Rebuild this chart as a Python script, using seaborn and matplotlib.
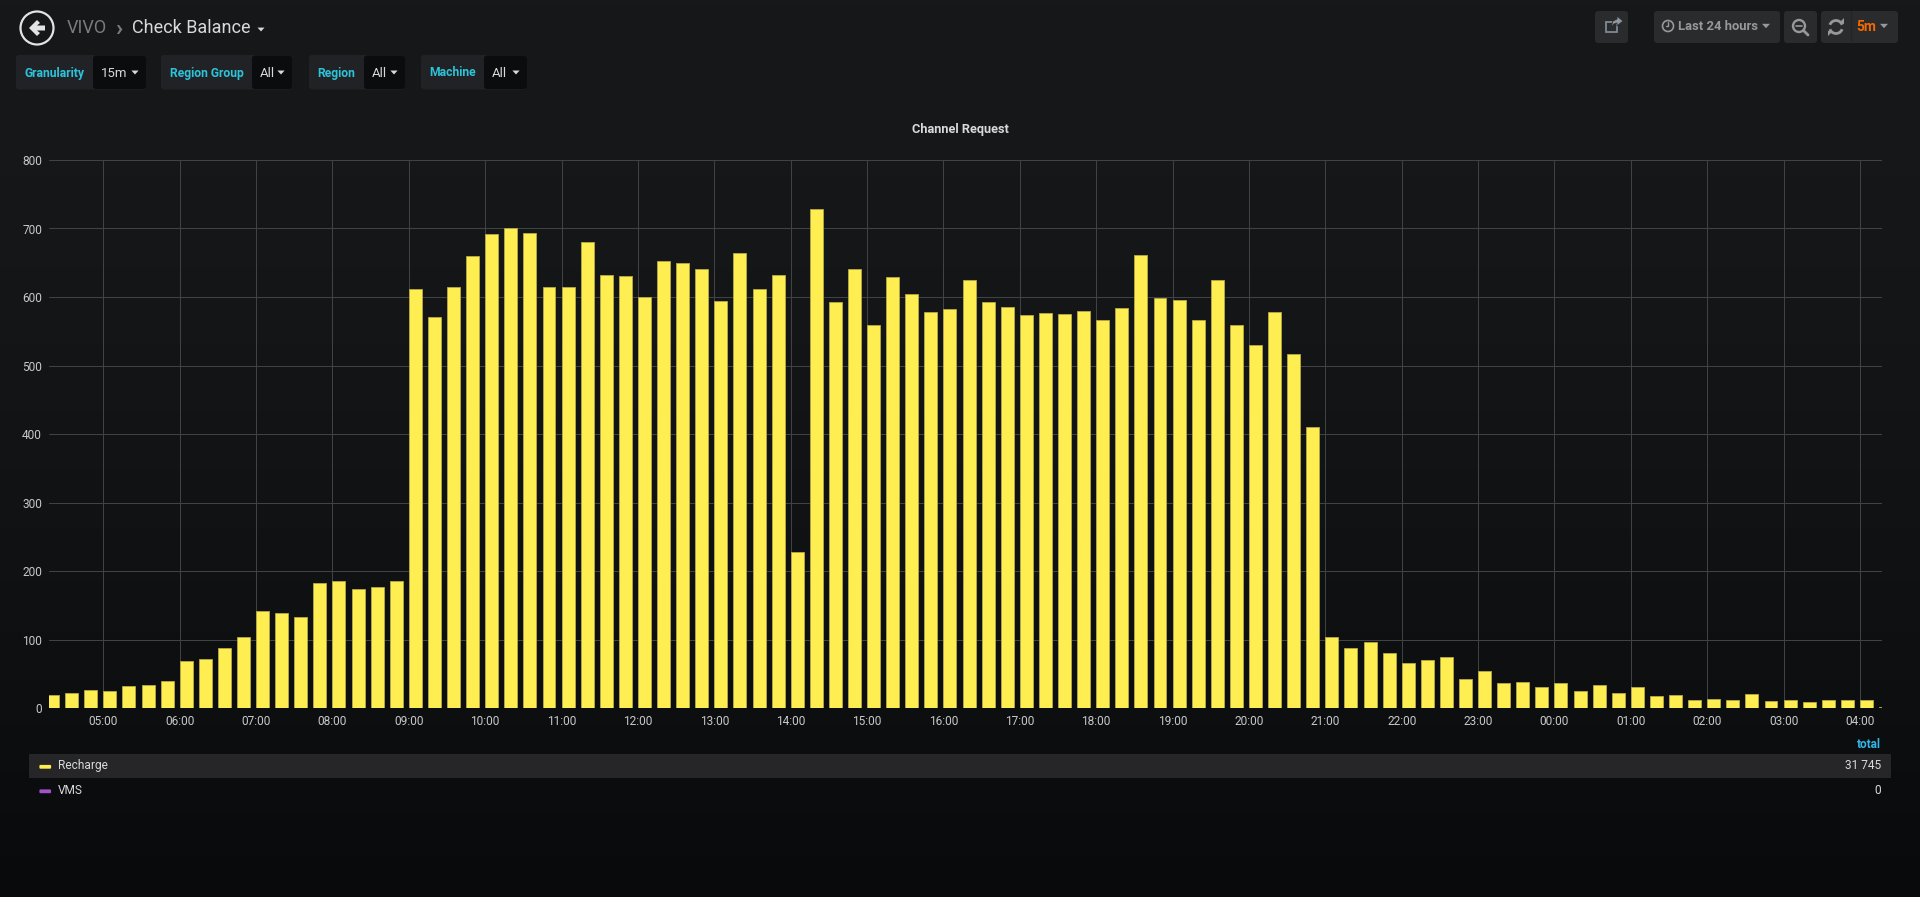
import numpy as np
import pandas as pd
import seaborn as sns
import matplotlib.pyplot as plt
from matplotlib.patches import FancyBboxPatch, Rectangle, Circle, Polygon, Arc

# Values per 15 minute bucket (first bucket 04:15)
recharge = [19, 22, 26,
            25, 32, 34, 40,
            69, 72, 87, 104,
            142, 139, 133, 182,
            186, 174, 177, 186,
            612, 571, 614, 660,
            692, 701, 694, 615,
            614, 680, 632, 630,
            600, 652, 650, 641,
            594, 664, 611, 632,
            228, 728, 593, 641,
            559, 629, 604, 578,
            583, 625, 593, 586,
            574, 577, 575, 579,
            567, 584, 661, 598,
            596, 567, 625, 559,
            530, 578, 517, 410,
            104, 87, 97, 81,
            65, 70, 74, 42,
            54, 37, 38, 31,
            37, 25, 34, 22,
            30, 18, 19, 12,
            13, 11, 21, 10,
            11, 9, 11, 11,
            11, 1.5]
vms = [0] * len(recharge)

hour_labels = ['05:00', '06:00', '07:00', '08:00', '09:00', '10:00', '11:00', '12:00',
               '13:00', '14:00', '15:00', '16:00', '17:00', '18:00', '19:00', '20:00',
               '21:00', '22:00', '23:00', '00:00', '01:00', '02:00', '03:00', '04:00']
y_ticks = [0, 100, 200, 300, 400, 500, 600, 700, 800]
legend_names = ['Recharge', 'VMS']
legend_totals = ['31 745', '0']

YELLOW = '#FFEE52'
PURPLE = '#A352CC'
CYAN = '#2CC4DA'
TEXT = '#D8D9DA'
GREY = '#97989A'

sns.set_theme(style='dark')
plt.rcParams['font.family'] = ['Roboto', 'DejaVu Sans']

fig = plt.figure(figsize=(19.2, 8.97), dpi=100)

# background layer in screen pixels, for the dashboard chrome
bg = fig.add_axes([0, 0, 1, 1], zorder=0)
bg.set_xlim(0, 1920)
bg.set_ylim(897, 0)
bg.axis('off')
shade = np.linspace(0, 1, 256).reshape(256, 1, 1) ** 1.6
start, end = np.array([0x17, 0x18, 0x1A]), np.array([0x09, 0x0A, 0x0C])
bg.imshow((start + (end - start) * shade) / 255, extent=(0, 1920, 897, 0), aspect='auto', zorder=0)


def box(x0, x1, y0, y1, color):
    bg.add_patch(FancyBboxPatch((x0, y0), x1 - x0, y1 - y0, boxstyle='round,pad=0,rounding_size=3',
                                fc=color, ec='none', zorder=1))


def caret(x, y, color, size=4.5):
    bg.add_patch(Polygon([(x - size, y - size * 0.55), (x + size, y - size * 0.55), (x, y + size * 0.55)],
                         fc=color, ec='none', zorder=3))


def label(x, y, s, color=TEXT, size=9.4, ha='left', weight='normal'):
    bg.text(x, y, s, color=color, fontsize=size, ha=ha, va='center', fontweight=weight, zorder=3)


# back button and breadcrumb
bg.add_patch(Circle((37, 28), 16.5, fc='none', ec='#E3E3E4', lw=1.6, zorder=3))
bg.add_patch(Polygon([(29, 28), (37, 20), (40, 23), (37, 25.5), (45, 25.5), (45, 30.5), (37, 30.5), (40, 33), (37, 36)],
                     fc='#E3E3E4', ec='none', zorder=3))
label(67, 28, 'VIVO', color='#7B7C7E', size=13)
label(115, 28, '›', color='#7B7C7E', size=17, weight='bold')
label(132, 28, 'Check Balance', color=TEXT, size=13)
caret(261, 29.5, TEXT, size=3.5)

# template variables
variables = [(16, 93, 146, 'Granularity', '15m'), (161, 252, 292, 'Region Group', 'All'),
             (309, 364, 405, 'Region', 'All'), (421, 484, 527, 'Machine', 'All')]
for x0, xm, x1, name, value in variables:
    box(x0, x1, 55, 89.5, '#212226')
    box(xm, x1, 55.5, 89, '#0B0C0E')
    label(x0 + 8.5, 73, name, color=CYAN, size=8.7, weight='bold')
    label(xm + 8, 73.5, value, color=TEXT, size=9.5)
    caret(x1 - 11, 72.5, TEXT, size=3.6)

# time picker buttons
for x0, x1 in [(1595, 1628), (1654, 1780), (1784, 1817), (1821, 1898)]:
    box(x0, x1, 11, 43, '#2A2B2D')
bg.plot([1851, 1851], [11, 43], color='#222325', lw=0.8, zorder=2)
# share icon
bg.add_patch(Rectangle((1606, 22), 10.5, 10.5, fc='none', ec='#7E8A96', lw=1.3, zorder=3))
bg.add_patch(Polygon([(1611, 27), (1613, 21), (1617, 19), (1617, 16), (1623, 21), (1617, 26), (1617, 23), (1614, 24)],
                     fc='#8E979F', ec='#2A2B2D', lw=0.6, zorder=4))
# clock, magnifier and refresh icons
bg.add_patch(Circle((1668, 26), 5.5, fc='none', ec=GREY, lw=1.2, zorder=3))
bg.plot([1668, 1668, 1665.5], [22.5, 26.5, 26.5], color=GREY, lw=1, zorder=3)
label(1678, 27, 'Last 24 hours', color=GREY, size=9.4, weight='bold')
caret(1766, 26, GREY, size=4)
bg.add_patch(Circle((1799, 26), 6, fc='none', ec=GREY, lw=1.7, zorder=3))
bg.plot([1803.5, 1808], [30.5, 35], color=GREY, lw=2, zorder=3)
bg.plot([1796, 1802], [26, 26], color=GREY, lw=1.2, zorder=3)
bg.add_patch(Arc((1836, 27), 13, 13, theta1=200, theta2=340, color=GREY, lw=2, zorder=3))
bg.add_patch(Arc((1836, 27), 13, 13, theta1=20, theta2=160, color=GREY, lw=2, zorder=3))
bg.add_patch(Polygon([(1839, 23), (1844, 18), (1844, 24)], fc=GREY, ec='none', zorder=3))
bg.add_patch(Polygon([(1828, 31), (1833, 31), (1828, 36)], fc=GREY, ec='none', zorder=3))
label(1856, 27, '5m', color='#F46800', size=10, weight='bold')
caret(1884, 26, GREY, size=4)

# legend table under the graph
label(1881, 744, 'total', color='#33B5E5', size=8.6, ha='right', weight='bold')
bg.add_patch(Rectangle((29, 754), 1862, 24, fc='#262628', ec='none', zorder=1))
for name, total, color, y in zip(legend_names, legend_totals, [YELLOW, PURPLE], [765.5, 790]):
    bg.add_patch(FancyBboxPatch((40, y), 10.5, 2.6, boxstyle='round,pad=0.6,rounding_size=1',
                                fc=color, ec='none', zorder=3))
    label(58, y, name, color=TEXT, size=8.6)
    label(1881, y, total, color=TEXT, size=8.6, ha='right')

# the graph itself
W, H = 1920, 897
left, right, top, bottom = 49, 1882, 160, 708
ax = fig.add_axes([left / W, 1 - bottom / H, (right - left) / W, (bottom - top) / H], zorder=1)
ax.patch.set_alpha(0)

bucket = 0.25
bar_share = 0.68
# Grafana draws a bar from the start of its bucket, barplot centres on x
start_hour = 4.25
hours = start_hour + bucket * np.arange(len(recharge))
df = pd.DataFrame({'hour': hours + bucket * bar_share / 2, 'Recharge': recharge, 'VMS': vms})

sns.barplot(data=df, x='hour', y='VMS', native_scale=True, width=bar_share, color=PURPLE,
            saturation=1, linewidth=0, ax=ax, zorder=3)
sns.barplot(data=df, x='hour', y='Recharge', native_scale=True, width=bar_share, color=YELLOW,
            saturation=1, edgecolor='#B8AB42', linewidth=0.6, ax=ax, zorder=3)

window_start = 4 + 17.3 / 60
ax.set_xlim(window_start, window_start + 24)
ax.set_ylim(0, 800)
ax.set_xticks(np.arange(5, 5 + len(hour_labels)))
ax.set_xticklabels(hour_labels)
ax.set_yticks(y_ticks)
ax.set_xlabel('')
ax.set_ylabel('')
ax.set_axisbelow(True)
ax.grid(True, color='#414244', lw=0.72)
ax.tick_params(axis='both', length=0, labelsize=8.6, colors='#C7C8C9')
ax.tick_params(axis='x', pad=5)
ax.tick_params(axis='y', pad=5)
for spine in ax.spines.values():
    spine.set_visible(False)

fig.text(960 / W, 1 - 129.5 / H, 'Channel Request', color=TEXT, fontsize=9.2, fontweight='bold',
         ha='center', va='center')

fig.savefig('out.png', dpi=100, facecolor='#161719')
